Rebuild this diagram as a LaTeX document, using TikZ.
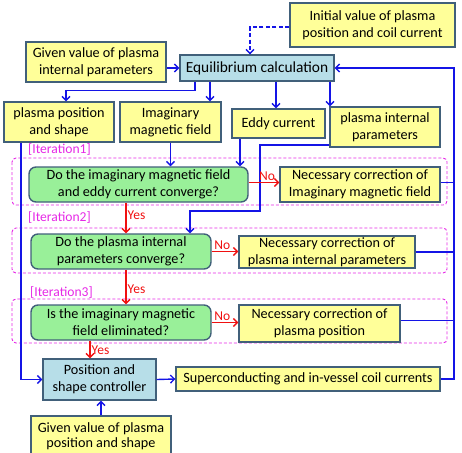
\documentclass[tikz,border=0pt]{standalone}
\usepackage{fontspec}
\setmainfont{Carlito}
\usetikzlibrary{arrows.meta,calc}
\definecolor{ybox}{HTML}{FFFF99}
\definecolor{bbox}{HTML}{B7DEE8}
\definecolor{gbox}{HTML}{99F099}
\definecolor{edge}{HTML}{41607A}
\definecolor{lblue}{HTML}{1414E6}
\definecolor{lred}{HTML}{F01010}
\definecolor{mag}{HTML}{E628E6}
\tikzset{
  basebox/.style={draw=edge, line width=1.4pt, align=center, inner sep=0pt,
    font=\fontsize{14.2}{17}\selectfont},
  ybx/.style={basebox, fill=ybox},
  bbx/.style={basebox, fill=bbox},
  gbx/.style={basebox, fill=gbox, rounded corners=7pt},
  barr/.style={draw=lblue, line width=1.4pt, -{Straight Barb[length=4pt,width=8pt,line width=1.3pt]}},
  bline/.style={draw=lblue, line width=1.4pt},
  rarr/.style={draw=lred, line width=1.4pt, -{Straight Barb[length=4pt,width=8pt,line width=1.3pt]}},
  itbox/.style={draw=mag, line width=0.9pt, dash pattern=on 3pt off 2pt, rounded corners=4pt},
  itlab/.style={text=mag, font=\fontsize{13.6}{15}\selectfont, anchor=west, inner sep=0pt},
  yn/.style={text=lred, font=\fontsize{13.5}{15}\selectfont, inner sep=1pt},
}
\begin{document}
\begin{tikzpicture}[x=1pt,y=-1pt]
\useasboundingbox (0,0) rectangle (462,452);
\clip (0,0) rectangle (462,452);
% iteration frames
\draw[itbox] (12,158) rectangle (447,205);
\draw[itbox] (12,228) rectangle (447,273);
\draw[itbox] (12,299) rectangle (447,343);
\node[itlab] (it1) at (28,150) {[Iteration1]};
\node[itlab] (it2) at (28,218) {[Iteration2]};
\node[itlab] (it3) at (30,293) {[Iteration3]};
% nodes
\node[ybx, minimum width=165, minimum height=44] (init) at (372.5,25) {Initial value of plasma\\position and coil current};
\node[ybx, minimum width=140, minimum height=40] (given1) at (96,62) {Given value of plasma\\internal parameters};
\node[bbx, minimum width=154, minimum height=26, font=\fontsize{15.4}{18}\selectfont] (equil) at (257,68) {Equilibrium calculation};
\node[ybx, minimum width=110, minimum height=40] (pps) at (59,122) {plasma position\\and shape};
\node[ybx, minimum width=101, minimum height=40] (imf) at (170.5,122) {Imaginary\\magnetic field};
\node[ybx, minimum width=93, minimum height=29] (eddy) at (278.5,123.5) {Eddy current};
\node[ybx, minimum width=110, minimum height=40] (pip) at (385,127) {plasma internal\\parameters};
\node[gbx, minimum width=219, minimum height=35] (d1) at (138.5,184.5) {Do the imaginary magnetic field\\and eddy current converge?};
\node[ybx, minimum width=160, minimum height=35] (c1) at (360,184.5) {Necessary correction of\\Imaginary magnetic field};
\node[gbx, minimum width=180, minimum height=35] (d2) at (121,251.5) {Do the plasma internal\\parameters converge?};
\node[ybx, minimum width=176, minimum height=32] (c2) at (327,252) {Necessary correction of\\plasma internal parameters};
\node[gbx, minimum width=180, minimum height=35] (d3) at (121,322.5) {Is the imaginary magnetic\\field eliminated?};
\node[ybx, minimum width=161, minimum height=37] (c3) at (319.5,323.5) {Necessary correction of\\plasma position};
\node[bbx, minimum width=113, minimum height=41] (pos) at (99.5,379.5) {Position and\\shape controller};
\node[ybx, minimum width=264, minimum height=24] (sc) at (308,379) {Superconducting and in-vessel coil currents};
\node[ybx, minimum width=140, minimum height=40, font=\fontsize{14.2}{15.5}\selectfont] (given2) at (101,436) {Given value of plasma\\position and shape};
\coordinate (rail) at (454,68);
% connectors
\draw[barr, dash pattern=on 4pt off 2.5pt] ([yshift=-2pt]init.west) -| ([xshift=-7pt]equil.north);
\draw[barr] (given1.east |- equil.west) -- (equil.west);
\draw[barr] ([xshift=-62pt]equil.south) -- ++(0,9) -| ([xshift=7pt]pps.north);
\draw[barr] ([xshift=-47pt]equil.south) -- ([xshift=-47pt]equil.south |- imf.north);
\draw[barr] ([xshift=19pt]equil.south) -- ([xshift=19pt]equil.south |- eddy.north);
\draw[barr] ([xshift=73pt]equil.south) -- ([xshift=73pt]equil.south |- pip.north);
\draw[barr] (imf.south) -- (imf.south |- d1.north);
\draw[barr] ([xshift=-38.5pt]eddy.south) -- ([xshift=-38.5pt]eddy.south |- d1.north);
\draw[barr] ([yshift=-18pt]pip.west) -| (260,211) -| ([xshift=69pt]d2.north);
\draw[barr] ([xshift=-38pt]pps.south) |- (pos.west);
\draw[barr] (pos.east) -- (sc.west);
\draw[barr] (given2.north) -- (given2.north |- pos.south);
\draw[bline] ([yshift=2pt]c1.east) -- ([yshift=2pt]c1.east -| rail);
\draw[bline] (c2.east) -- (c2.east -| rail);
\draw[bline] ([yshift=3pt]c3.east) -- ([yshift=3pt]c3.east -| rail);
\draw[barr] (sc.east) -| (rail) -- (equil.east);
% decisions
\draw[rarr] ([yshift=2pt]d1.east) -- node[yn, above, pos=0.6] (no1) {No} ([yshift=2pt]c1.west);
\draw[rarr] (d2.east) -- node[yn, above, pos=0.4] (no2) {No} (d2.east -| c2.west);
\draw[rarr] (d3.east) -- node[yn, above, pos=0.4] (no3) {No} (d3.east -| c3.west);
\draw[rarr] ([xshift=-12.5pt]d1.south) -- node[yn, right, pos=0.4] (y1) {Yes} ([xshift=-12.5pt]d1.south |- d2.north);
\draw[rarr] ([xshift=5pt]d2.south) -- node[yn, right, pos=0.55] (y2) {Yes} ([xshift=5pt]d2.south |- d3.north);
\draw[rarr] ([xshift=-31pt]d3.south) -- node[yn, right, pos=0.55] (y3) {Yes} ([xshift=-31pt]d3.south |- pos.north);
\end{tikzpicture}
\end{document}
